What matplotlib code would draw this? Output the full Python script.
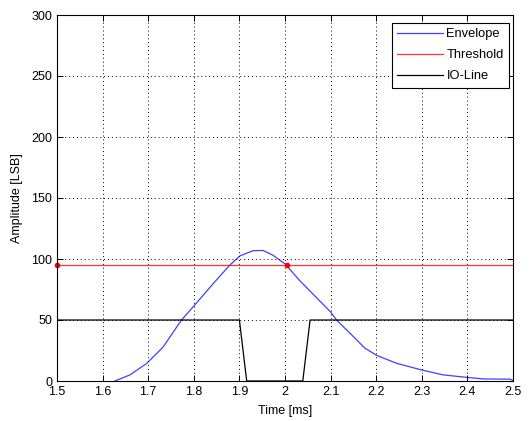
import matplotlib
matplotlib.use("Agg")
import matplotlib.pyplot as plt

plt.rcParams['font.family'] = ['Liberation Sans', 'DejaVu Sans']

env_t = [1.627, 1.66, 1.697, 1.733, 1.773, 1.799, 1.843, 1.879, 1.901, 1.93, 1.952,
         1.974, 2.0, 2.033, 2.062, 2.099, 2.113, 2.143, 2.175, 2.201, 2.245, 2.30,
         2.347, 2.398, 2.435, 2.493, 2.5]
env_v = [0, 5, 14.5, 28, 50, 61, 80, 95, 102.5, 106.8, 107, 103, 96, 82, 71, 57, 50,
         39, 27, 21, 14.5, 9, 5, 3, 1.7, 1.5, 0.5]

thr_t = [1.5, 2.5]
thr_v = [95, 95]
thr_pts_t = [1.5, 2.005]
thr_pts_v = [95, 95]

io_t = [1.5, 1.9, 1.916, 2.039, 2.055, 2.5]
io_v = [50, 50, 0, 0, 50, 50]

xticks = [1.5, 1.6, 1.7, 1.8, 1.9, 2.0, 2.1, 2.2, 2.3, 2.4, 2.5]
xticklabels = ['1.5', '1.6', '1.7', '1.8', '1.9', '2', '2.1', '2.2', '2.3', '2.4', '2.5']
yticks = [0, 50, 100, 150, 200, 250, 300]

fig = plt.figure(figsize=(5.30, 4.21), dpi=100)
ax = fig.add_axes([57/530, 1 - 381/421, (513-57)/530, (381-15)/421])

ax.plot(env_t, env_v, color='#0000ff', lw=0.9, label='Envelope', alpha=0.75)
ax.plot(thr_t, thr_v, color='#ff0000', lw=0.9, label='Threshold', alpha=0.8)
ax.plot(io_t, io_v, color='black', lw=0.9, label='IO-Line')
ax.plot(thr_pts_t, thr_pts_v, 'o', color='#ff0000', ms=3, clip_on=False)

ax.set_xlim(1.5, 2.5)
ax.set_ylim(0, 300)
ax.set_xticks(xticks)
ax.set_xticklabels(xticklabels)
ax.set_yticks(yticks)
ax.grid(True, linestyle=(0, (1, 3)), color='black', lw=0.7)
ax.tick_params(direction='in', top=True, right=True, labelsize=9, length=4, width=0.7)
for s in ax.spines.values():
    s.set_linewidth(0.8)
ax.set_xlabel('Time [ms]', fontsize=9, labelpad=5)
ax.set_ylabel('Amplitude [LSB]', fontsize=9, labelpad=6)

leg = ax.legend(loc='upper right', bbox_to_anchor=(0.991, 0.978), borderaxespad=0,
                fontsize=9.3, fancybox=False, framealpha=1,
                edgecolor='black', handlelength=3.5,
                handletextpad=0.3, labelspacing=0.7)
leg.get_frame().set_linewidth(0.8)

fig.savefig('out.png', dpi=100)
